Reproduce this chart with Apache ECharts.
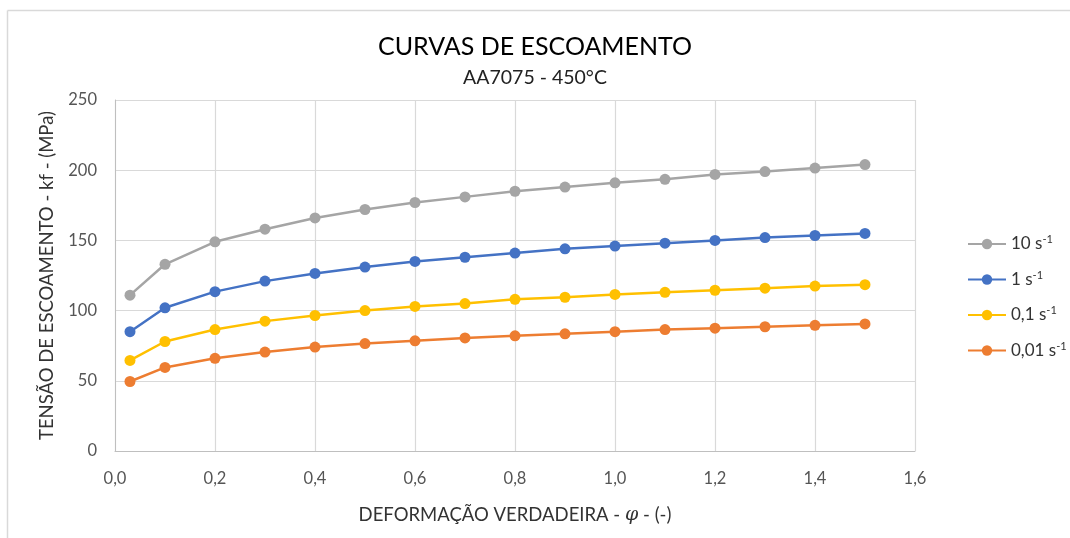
<!DOCTYPE html>
<html>
<head>
<meta charset="utf-8">
<script src="https://cdn.jsdelivr.net/npm/echarts@6/dist/echarts.min.js"></script>
<style>
  html, body { margin: 0; padding: 0; background: #fff; }
  #chart { width: 1070px; height: 538px; }
</style>
</head>
<body>
<div id="chart"></div>
<script>
// Deformation values (x axis)
const strain = [0.03, 0.1, 0.2, 0.3, 0.4, 0.5, 0.6, 0.7, 0.8, 0.9, 1.0, 1.1, 1.2, 1.3, 1.4, 1.5];

// Flow stress for each strain rate (MPa)
const rate10 = [111, 133, 149, 158, 166, 172, 177, 181, 185, 188, 191, 193.5, 197, 199, 201.5, 204];
const rate1 = [85, 102, 113.5, 121, 126.5, 131, 135, 138, 141, 144, 146, 148, 150, 152, 153.5, 155];
const rate01 = [64.5, 78, 86.5, 92.5, 96.5, 100, 103, 105, 108, 109.5, 111.5, 113, 114.5, 116, 117.5, 118.5];
const rate001 = [49.5, 59.5, 66, 70.5, 74, 76.5, 78.5, 80.5, 82, 83.5, 85, 86.5, 87.5, 88.5, 89.5, 90.5];

const seriesNames = ['10', '1', '0,1', '0,01'];
const colors = ['#A5A5A5', '#4472C4', '#FFC000', '#ED7D31'];
const allData = [rate10, rate1, rate01, rate001];

const font = 'Lato, "Open Sans", sans-serif';

const chartDom = document.getElementById('chart');
const myChart = echarts.init(chartDom);

// Pair x values with each series
const series = allData.map((vals, i) => ({
    name: seriesNames[i],
    type: 'line',
    data: strain.map((x, j) => [x, vals[j]]),
    symbol: 'circle',
    symbolSize: 11,
    lineStyle: { width: 2.5, color: colors[i] },
    itemStyle: { color: colors[i] }
}));

const option = {
    animation: false,
    backgroundColor: '#fff',
    title: {
        text: 'CURVAS DE ESCOAMENTO',
        subtext: 'AA7075 - 450°C',
        left: 'center',
        top: 29,
        itemGap: 9,
        textStyle: { fontFamily: font, fontSize: 25, fontWeight: 'normal', color: '#000' },
        subtextStyle: { fontFamily: font, fontSize: 19.5, color: '#222' }
    },
    legend: {
        orient: 'vertical',
        left: 962,
        top: 229,
        itemGap: 17,
        itemWidth: 38,
        itemHeight: 13,
        data: seriesNames,
        formatter: name => name + ' s{sup|-1}',
        textStyle: {
            fontFamily: font,
            fontSize: 17,
            color: '#333',
            rich: {
                sup: { fontSize: 11, verticalAlign: 'top', padding: [0, 0, 9, 0], color: '#333', fontFamily: font }
            }
        }
    },
    grid: { left: 115, right: 155, top: 100, bottom: 87 },
    xAxis: {
        type: 'value',
        min: 0,
        max: 1.6,
        interval: 0.2,
        name: 'DEFORMAÇÃO VERDADEIRA - {i|φ} - (-)',
        nameLocation: 'middle',
        nameGap: 55,
        nameTextStyle: {
            fontFamily: font, fontSize: 18.5, color: '#333',
            rich: { i: { fontStyle: 'italic', fontSize: 19, fontFamily: 'DejaVu Serif', color: '#333' } }
        },
        axisLine: { show: true, lineStyle: { color: '#bfbfbf' } },
        axisTick: { show: false },
        axisLabel: {
            fontFamily: font, fontSize: 16.5, color: '#555', margin: 19,
            formatter: v => v.toFixed(1).replace('.', ',')
        },
        splitLine: { show: true, lineStyle: { color: '#d9d9d9', width: 1.2 } }
    },
    yAxis: {
        type: 'value',
        min: 0,
        max: 250,
        interval: 50,
        name: 'TENSÃO DE ESCOAMENTO - kf - (MPa)',
        nameLocation: 'middle',
        nameGap: 58,
        nameTextStyle: { fontFamily: font, fontSize: 18.5, color: '#333' },
        axisLine: { show: true, lineStyle: { color: '#bfbfbf' } },
        axisTick: { show: false },
        axisLabel: { fontFamily: font, fontSize: 16.5, color: '#555', margin: 18 },
        splitLine: { show: true, lineStyle: { color: '#d9d9d9', width: 1.2 } }
    },
    graphic: [
        { type: 'line', shape: { x1: 7.5, y1: 10.5, x2: 1070, y2: 10.5 }, style: { stroke: '#d9d9d9', lineWidth: 1.5 } },
        { type: 'line', shape: { x1: 7.5, y1: 10.5, x2: 7.5, y2: 538 }, style: { stroke: '#d9d9d9', lineWidth: 1.5 } }
    ],
    series: series
};

myChart.setOption(option);
</script>
</body>
</html>
